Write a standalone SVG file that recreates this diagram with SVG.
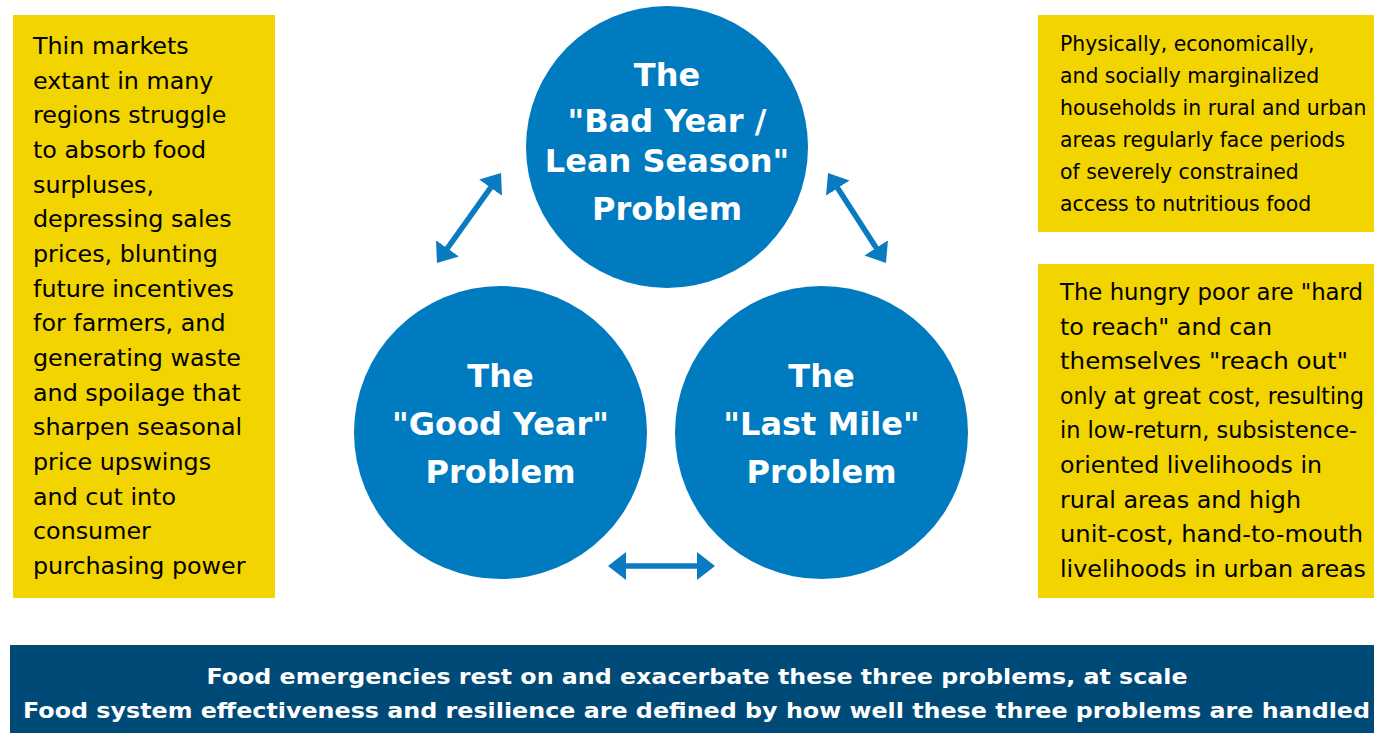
<svg xmlns="http://www.w3.org/2000/svg" width="1374" height="733" viewBox="0 0 1374 733">
<style>
.box{fill:#F2D400}
.bt{font-family:"DejaVu Sans","Liberation Sans",sans-serif;fill:#000}
.circ{fill:#007BC0}
.ct{font-family:"DejaVu Sans","Liberation Sans",sans-serif;font-weight:bold;font-size:32px;fill:#fff;text-anchor:middle}
.ban{fill:#004A77}
.bn{font-family:"DejaVu Sans","Liberation Sans",sans-serif;font-weight:bold;font-size:22px;fill:#fff;text-anchor:middle}
.arr{stroke:#0A7BC1;stroke-width:5.5;fill:none}
</style>
<defs>
<marker id="ah" markerUnits="userSpaceOnUse" markerWidth="20" markerHeight="32" viewBox="0 0 20 32" refX="14" refY="16" orient="auto-start-reverse">
<path d="M0,2 L18,16 L0,30 Z" fill="#0A7BC1"/>
</marker>
</defs>

<g id="left-box">
<rect class="box" x="13" y="15" width="262" height="583"/>
<text class="bt" font-size="23.8" x="33">
<tspan x="33" y="54">Thin markets</tspan>
<tspan x="33" y="88.7">extant in many</tspan>
<tspan x="33" y="123.3">regions struggle</tspan>
<tspan x="33" y="158">to absorb food</tspan>
<tspan x="33" y="192.7">surpluses,</tspan>
<tspan x="33" y="227.3">depressing sales</tspan>
<tspan x="33" y="262">prices, blunting</tspan>
<tspan x="33" y="296.7">future incentives</tspan>
<tspan x="33" y="331.3">for farmers, and</tspan>
<tspan x="33" y="366">generating waste</tspan>
<tspan x="33" y="400.7">and spoilage that</tspan>
<tspan x="33" y="435.3">sharpen seasonal</tspan>
<tspan x="33" y="470">price upswings</tspan>
<tspan x="33" y="504.7">and cut into</tspan>
<tspan x="33" y="539.3">consumer</tspan>
<tspan x="33" y="574">purchasing power</tspan>
</text>
</g>

<g id="right-top-box">
<rect class="box" x="1038" y="15" width="336" height="217"/>
<text class="bt" font-size="20.4" x="1060">
<tspan x="1060" y="51">Physically, economically,</tspan>
<tspan x="1060" y="83">and socially marginalized</tspan>
<tspan x="1060" y="115">households in rural and urban</tspan>
<tspan x="1060" y="147">areas regularly face periods</tspan>
<tspan x="1060" y="179">of severely constrained</tspan>
<tspan x="1060" y="211">access to nutritious food</tspan>
</text>
</g>

<g id="right-bottom-box">
<rect class="box" x="1038" y="264" width="336" height="334"/>
<g class="bt" font-size="22.6">
<text x="1060" y="300" textLength="303" lengthAdjust="spacingAndGlyphs">The hungry poor are "hard</text>
<text x="1060" y="334.6" textLength="212" lengthAdjust="spacingAndGlyphs">to reach" and can</text>
<text x="1060" y="369.2" textLength="288" lengthAdjust="spacingAndGlyphs">themselves "reach out"</text>
<text x="1060" y="403.8" textLength="304" lengthAdjust="spacingAndGlyphs">only at great cost, resulting</text>
<text x="1060" y="438.4" textLength="297" lengthAdjust="spacingAndGlyphs">in low-return, subsistence-</text>
<text x="1060" y="473" textLength="262" lengthAdjust="spacingAndGlyphs">oriented livelihoods in</text>
<text x="1060" y="507.6" textLength="241" lengthAdjust="spacingAndGlyphs">rural areas and high</text>
<text x="1060" y="542.2" textLength="303" lengthAdjust="spacingAndGlyphs">unit-cost, hand-to-mouth</text>
<text x="1060" y="576.8" textLength="306" lengthAdjust="spacingAndGlyphs">livelihoods in urban areas</text>
</g>
</g>

<g id="bad-year">
<circle class="circ" cx="667" cy="147" r="141"/>
<text class="ct" x="667" y="86">The</text>
<text class="ct" x="667" y="132">"Bad Year /</text>
<text class="ct" x="667" y="172">Lean Season"</text>
<text class="ct" x="667" y="220">Problem</text>
</g>

<g id="good-year">
<circle class="circ" cx="500.5" cy="432.5" r="146.5"/>
<text class="ct" x="500.5" y="387">The</text>
<text class="ct" x="500.5" y="435">"Good Year"</text>
<text class="ct" x="500.5" y="483">Problem</text>
</g>

<g id="last-mile">
<circle class="circ" cx="821.5" cy="432.5" r="146.5"/>
<text class="ct" x="821.5" y="387">The</text>
<text class="ct" x="821.5" y="435">"Last Mile"</text>
<text class="ct" x="821.5" y="483">Problem</text>
</g>

<g id="connectors">
<line class="arr" x1="439.3" y1="259.7" x2="498.7" y2="176.3" marker-start="url(#ah)" marker-end="url(#ah)"/>
<line class="arr" x1="830.2" y1="176.4" x2="883.8" y2="259.6" marker-start="url(#ah)" marker-end="url(#ah)"/>
<line class="arr" x1="612" y1="566" x2="711" y2="566" marker-start="url(#ah)" marker-end="url(#ah)"/>
</g>

<g id="banner">
<rect class="ban" x="10" y="645" width="1364" height="88"/>
<text class="bn" x="697" y="684" textLength="981" lengthAdjust="spacingAndGlyphs">Food emergencies rest on and exacerbate these three problems, at scale</text>
<text class="bn" x="696.5" y="718" textLength="1347" lengthAdjust="spacingAndGlyphs">Food system effectiveness and resilience are defined by how well these three problems are handled</text>
</g>
</svg>
